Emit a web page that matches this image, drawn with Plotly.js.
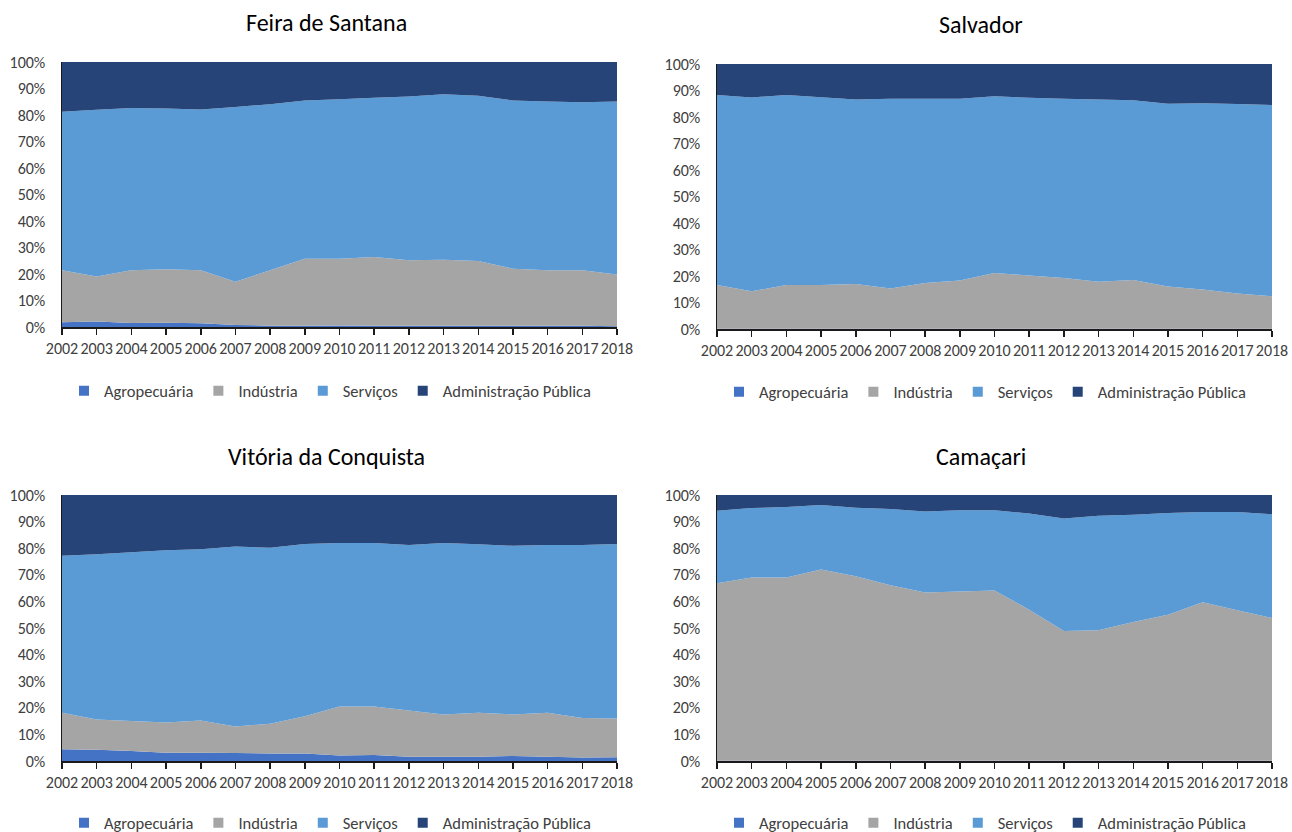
<!DOCTYPE html>
<html>
<head>
<meta charset="utf-8">
<script src="https://cdn.plot.ly/plotly-3.0.1.min.js"></script>
<style>html,body{margin:0;padding:0;background:#fff;}#chart{width:1292px;height:832px;}</style>
</head>
<body>
<div id="chart"></div>
<script>
const years = ["2002","2003","2004","2005","2006","2007","2008","2009","2010","2011","2012","2013","2014","2015","2016","2017","2018"];
const seriesNames = ["Agropecuária","Indústria","Serviços","Administração Pública"];
const seriesColors = ["#4472C4","#A5A5A5","#5B9BD5","#264478"];
const panelTitles = ["Feira de Santana","Salvador","Vitória da Conquista","Camaçari"];

// Shares (%)
const feiraAgro = [1.8,2.1,1.5,1.6,1.4,0.8,0.5,0.5,0.6,0.5,0.5,0.5,0.5,0.5,0.5,0.5,0.3];
const feiraInd  = [19.6,17.0,19.9,20.2,20.0,16.3,20.9,25.3,25.2,25.9,24.7,24.9,24.4,21.5,20.9,20.9,19.5];
const feiraServ = [59.8,62.9,61.2,60.7,60.7,65.9,62.7,59.7,60.1,60.1,61.8,62.4,62.4,63.5,63.7,63.4,65.3];
const feiraAdm  = [18.8,18.0,17.4,17.5,17.9,17.0,15.9,14.5,14.1,13.5,13.0,12.2,12.7,14.5,14.9,15.2,14.9];

const salvAgro = [0.1,0.1,0.1,0.1,0.1,0.1,0.1,0.1,0.1,0.1,0.1,0.1,0.1,0.1,0.1,0.1,0.1];
const salvInd  = [16.5,14.1,16.5,16.5,16.9,15.2,17.3,18.2,21.0,20.1,19.1,17.7,18.4,15.9,14.8,13.3,12.3];
const salvServ = [71.7,73.2,71.7,70.9,69.6,71.6,69.5,68.6,66.7,67.1,67.7,68.8,67.8,69.0,70.3,71.5,72.1];
const salvAdm  = [11.7,12.6,11.7,12.5,13.4,13.1,13.1,13.1,12.2,12.7,13.1,13.4,13.7,15.0,14.8,15.1,15.5];

const vitAgro = [4.4,4.2,3.8,3.1,3.1,3.0,2.8,2.8,2.1,2.3,1.6,1.6,1.6,1.9,1.6,1.3,1.4];
const vitInd  = [13.7,11.4,11.2,11.4,12.1,10.0,11.2,14.0,18.4,18.2,17.4,15.9,16.5,15.6,16.5,14.9,14.6];
const vitServ = [59.1,62.1,63.5,64.7,64.4,67.6,66.2,64.8,61.5,61.5,62.2,64.5,63.4,63.4,63.1,65.0,65.6];
const vitAdm  = [22.8,22.3,21.5,20.8,20.4,19.4,19.8,18.4,18.0,18.0,18.8,18.0,18.5,19.1,18.8,18.8,18.4];

const camAgro = [0.1,0.1,0.1,0.1,0.1,0.1,0.1,0.1,0.1,0.1,0.1,0.1,0.1,0.1,0.1,0.1,0.1];
const camInd  = [66.7,68.9,68.9,71.9,69.4,66.0,63.2,63.6,64.0,56.8,48.8,49.1,52.2,54.9,59.6,56.6,53.7];
const camServ = [27.3,26.1,26.5,24.2,25.7,28.6,30.5,30.6,30.2,36.1,42.3,43.0,40.3,38.2,33.9,36.9,39.0];
const camAdm  = [5.9,4.9,4.5,3.8,4.8,5.3,6.2,5.7,5.7,7.0,8.8,7.8,7.4,6.8,6.4,6.4,7.2];

const panels = [
  [feiraAgro, feiraInd, feiraServ, feiraAdm],
  [salvAgro, salvInd, salvServ, salvAdm],
  [vitAgro, vitInd, vitServ, vitAdm],
  [camAgro, camInd, camServ, camAdm]
];

const FONT = 'Carlito, Calibri, Lato, "Open Sans", sans-serif';
const W = 1292, H = 832;
const geom = [
  {l:62, r:617, t:62, b:327, leg:{x:330, y:391}, title:{x:326, y:22}},
  {l:717, r:1272, t:64, b:329, leg:{x:985, y:392}, title:{x:981, y:24}},
  {l:62, r:617, t:495, b:761, leg:{x:330, y:823}, title:{x:326, y:456}},
  {l:717, r:1272, t:495, b:761, leg:{x:985, y:823}, title:{x:981, y:456}}
];

const traces = [];
const layout = {
  width: W, height: H,
  margin: {l:0, r:0, t:0, b:0, autoexpand: false},
  paper_bgcolor: '#fff', plot_bgcolor: '#fff',
  font: {family: FONT, size: 15, color: '#404040'},
  showlegend: true,
  annotations: []
};

panels.forEach((vals, p) => {
  const g = geom[p];
  const n = p === 0 ? '' : String(p + 1);
  const xa = 'x' + n, ya = 'y' + n;
  const legName = 'legend' + n;
  vals.forEach((v, s) => {
    traces.push({
      type: 'scatter', mode: 'none', x: years, y: v,
      xaxis: xa, yaxis: ya, stackgroup: 'g' + p,
      fillcolor: seriesColors[s], line: {width: 0},
      name: seriesNames[s], showlegend: false, hoverinfo: 'x+y+name'
    });
  });
  seriesNames.forEach((nm, s) => {
    traces.push({
      type: 'scatter', mode: 'markers', x: [null], y: [null],
      xaxis: xa, yaxis: ya, name: nm, legend: legName,
      marker: {symbol: 'square', size: 10, color: seriesColors[s]},
      showlegend: true, hoverinfo: 'skip'
    });
  });
  layout['xaxis' + n] = {
    domain: [g.l / W, g.r / W], anchor: ya,
    type: 'category', range: [0, years.length - 1],
    showgrid: false, zeroline: false, automargin: false,
    showline: true, linecolor: '#1a1a1a', linewidth: 1.5,
    ticks: 'outside', ticklen: 6, tickcolor: '#1a1a1a', tickwidth: 1.5,
    tickangle: 0, tickfont: {size: 16, color: '#404040'},
    fixedrange: true
  };
  layout['yaxis' + n] = {
    domain: [1 - g.b / H, 1 - g.t / H], anchor: xa,
    range: [0, 100], dtick: 10, ticksuffix: '%',
    showgrid: false, zeroline: false, automargin: false,
    showline: true, linecolor: '#1a1a1a', linewidth: 1.5,
    ticks: '', ticklabelstandoff: 12, tickfont: {size: 16, color: '#404040'},
    fixedrange: true
  };
  layout[legName] = {
    orientation: 'h', x: g.leg.x / W, y: 1 - g.leg.y / H,
    xanchor: 'center', yanchor: 'middle', traceorder: 'normal',
    font: {size: 16.5, color: '#404040', family: FONT},
    bgcolor: 'rgba(0,0,0,0)', itemwidth: 30, tracegroupgap: 0
  };
  layout.annotations.push({
    text: panelTitles[p], xref: 'paper', yref: 'paper',
    x: g.title.x / W, y: 1 - g.title.y / H,
    xanchor: 'center', yanchor: 'middle', showarrow: false,
    font: {size: 24, color: '#000', family: FONT}
  });
});

Plotly.newPlot('chart', traces, layout, {displayModeBar: false, staticPlot: true});
</script>
</body>
</html>
